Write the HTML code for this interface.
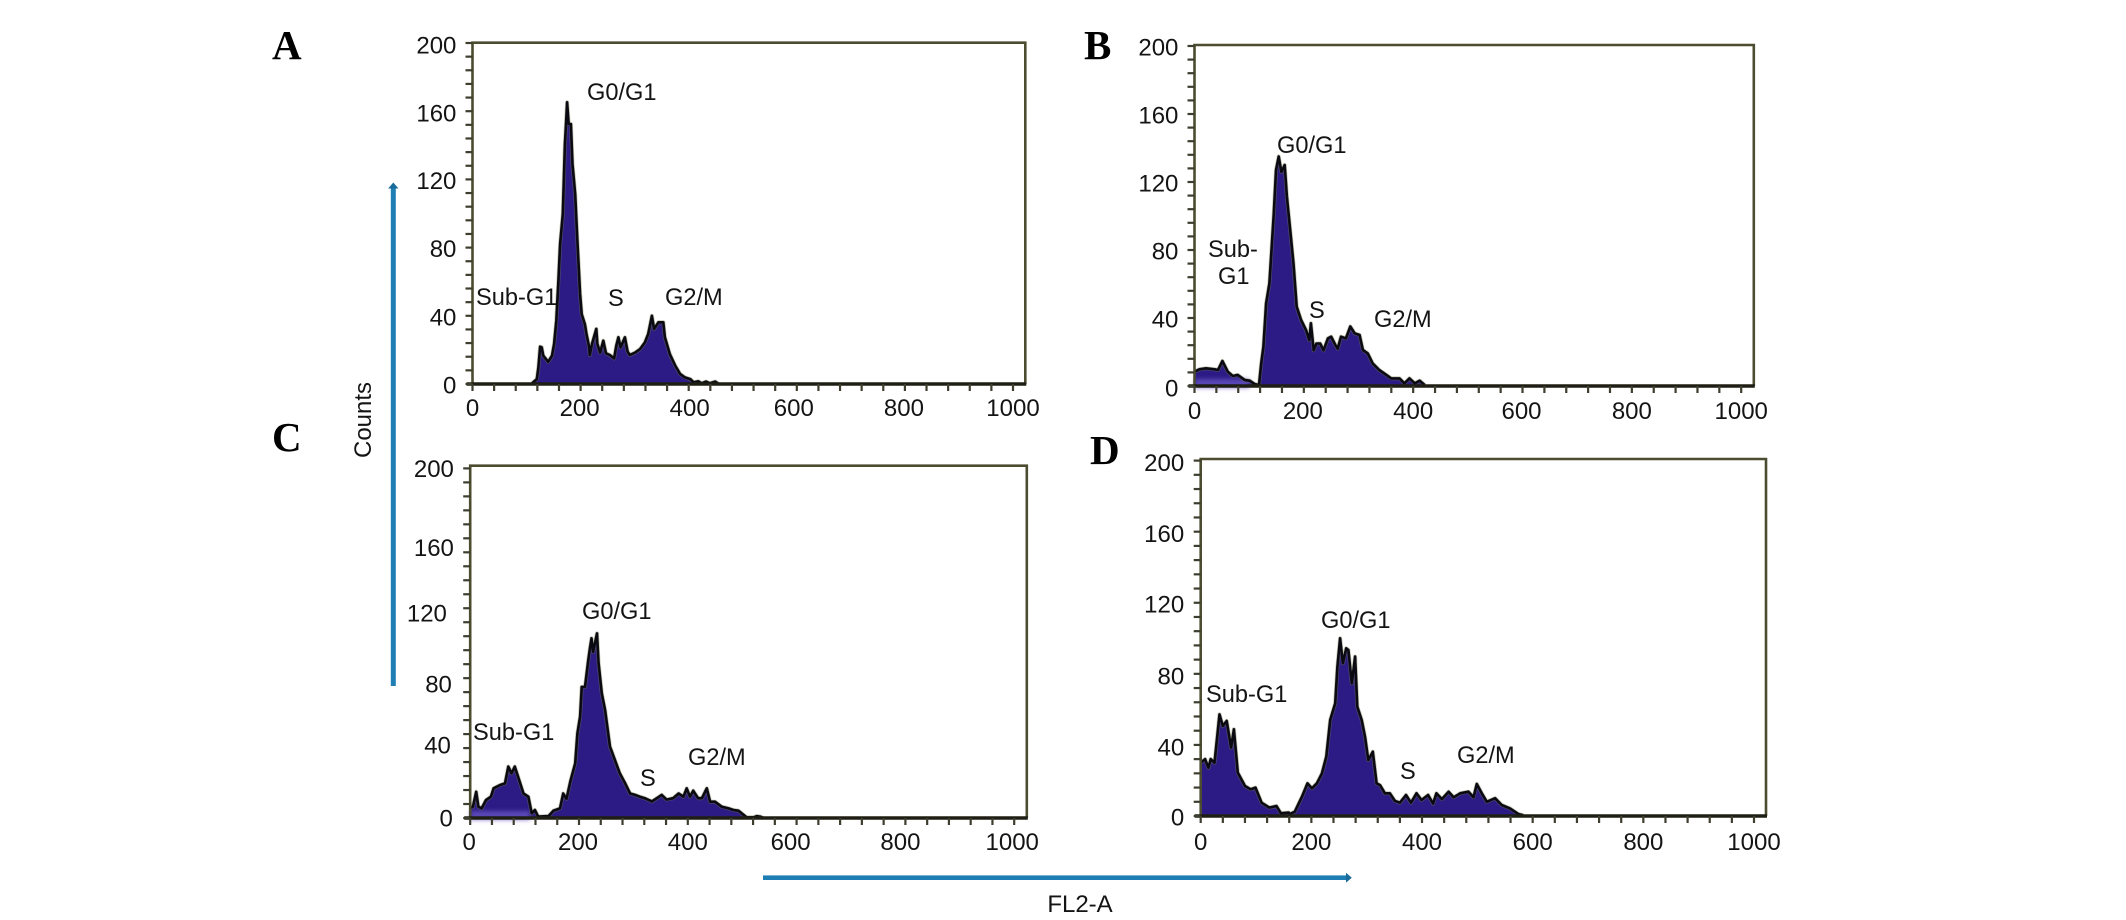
<!DOCTYPE html>
<html lang="en">
<head>
<meta charset="utf-8">
<title>Cell cycle flow cytometry histograms</title>
<style>
  html, body { margin: 0; padding: 0; background: #ffffff; }
  #figure { display: block; width: 2126px; height: 920px; background: #ffffff; }
  text { font-family: "Liberation Sans", sans-serif; fill: #141414; }
  .tick-label { font-size: 24px; }
  .phase-label { font-size: 23.6px; }
  .axis-title { font-size: 24px; }
  .panel-letter { font-family: "Liberation Serif", serif; font-weight: bold; font-size: 41px; fill: #000000; }
</style>
</head>
<body>
<svg id="figure" xmlns="http://www.w3.org/2000/svg" width="2126" height="920" viewBox="0 0 2126 920">
  <defs>
    <filter id="soft-glow" x="-20%" y="-100%" width="140%" height="300%"><feGaussianBlur stdDeviation="2"/></filter>
  </defs>
  <rect x="0" y="0" width="2126" height="920" fill="#ffffff"/>
  <g id="panels"></g>

  <text class="panel-letter" x="272" y="59">A</text>
  <text class="panel-letter" x="1084" y="59">B</text>
  <text class="panel-letter" x="272" y="451">C</text>
  <text class="panel-letter" x="1090" y="464">D</text>

  <text class="phase-label" x="587" y="100">G0/G1</text>
  <text class="phase-label" x="476" y="305">Sub-G1</text>
  <text class="phase-label" x="608" y="306">S</text>
  <text class="phase-label" x="665" y="305">G2/M</text>

  <text class="phase-label" x="1277" y="153">G0/G1</text>
  <text class="phase-label" x="1208" y="257">Sub-</text>
  <text class="phase-label" x="1218" y="284">G1</text>
  <text class="phase-label" x="1309" y="318">S</text>
  <text class="phase-label" x="1374" y="327">G2/M</text>

  <text class="phase-label" x="582" y="619">G0/G1</text>
  <text class="phase-label" x="473" y="740">Sub-G1</text>
  <text class="phase-label" x="640" y="786">S</text>
  <text class="phase-label" x="688" y="765">G2/M</text>

  <text class="phase-label" x="1321" y="628">G0/G1</text>
  <text class="phase-label" x="1206" y="702">Sub-G1</text>
  <text class="phase-label" x="1400" y="779">S</text>
  <text class="phase-label" x="1457" y="763">G2/M</text>

  <g>
    <rect x="390.8" y="186" width="5" height="500" fill="#1f7fb5"/>
    <polygon points="393.3,182.5 398.5,188.5 388.1,188.5" fill="#1a6a9a"/>
  </g>
  <g>
    <rect x="763" y="875.4" width="585" height="4.6" fill="#1f7fb5"/>
    <polygon points="1351.8,877.7 1346,872.8 1346,882.6" fill="#1a6a9a"/>
  </g>
  <text class="axis-title" transform="translate(371 420) rotate(-90)" text-anchor="middle">Counts</text>
  <text class="axis-title" x="1080" y="912" text-anchor="middle">FL2-A</text>
</svg>

<script>
const xTickLabels = [0, 200, 400, 600, 800, 1000];
const yTickLabels = [0, 40, 80, 120, 160, 200];
const xMinorStep = 40;
const yMinorStep = 8;

const panelAChannels = [110,119,122,125,128,131,140,147,151,155,159,162,167,171,173,175,178,182,185,190,194,199,202,208,211,216,217,221,229,231,236,242,247,254,262,266,270,274,282,287,291,301,310,319,325,332,336,344,353,356,365,375,384,393,403,409,418,424,432,439,449,455];
const panelACounts = [0.4,2.9,9.8,21.9,21.5,16.6,13,16.6,23.5,37.1,60.6,82.1,99.7,140.8,152.5,165.2,152.5,152.5,129,111.4,84,52.8,41,35,29.3,21.5,17,23.5,32.3,23.5,18.5,25.4,18,17,15,22.5,27.4,21.5,27.4,19,17,18.5,20.5,24.4,29.3,40,32.3,36.2,36.2,27.4,17.6,10.8,5.9,3.9,2.9,1,1.6,0.4,1.4,0.4,1.4,0.2];

const panelBChannels = [0,9,21,37,43,51,61,70,79,92,101,110,118,122,126,131,137,145,149,154,159,165,169,175,181,187,195,204,210,213,218,223,230,236,244,250,258,262,268,277,285,293,302,308,317,326,338,351,360,375,384,393,403,412,421];
const panelBCounts = [8.4,9.8,10.4,9.8,9.4,14.7,8.4,5.9,6.5,3.5,3.1,1.2,0.6,13.3,23,48.6,60.4,101.6,127,135,126,130,111.4,91.8,72,46.7,38.8,33,27,36.9,21,25,25,21,28,29,24,22,29,28,35,31,30,21.2,19.2,13.3,9.4,6.5,4.5,4.5,1.6,4.5,1.6,3.1,0.6];

const panelCChannels = [0,5,11,15,21,29,38,43,55,64,70,76,82,90,98,107,113,119,125,144,153,165,171,177,184,193,197,202,205,211,217,220,223,226,233,236,242,248,252,257,266,275,285,294,303,312,321,334,343,352,361,373,383,392,398,404,410,419,426,435,441,450,462,475,484,493,508,521,527,533,539];
const panelCCounts = [5.5,6.5,15,6.5,5.5,10.3,12.2,17,18.9,19.8,29.4,25.6,29.4,21.7,14,12.2,2.7,4.6,0.8,1.1,4.2,5.5,14,11,20.8,31.3,48.4,58,75,75,90,97,102.8,95,105.6,88.5,71.3,61.8,52.3,40.8,33.2,25.6,19.8,14,13.2,12.2,11.3,9.5,11.3,13.2,10.5,11.3,14,12.2,17,12.2,15.6,11.3,11.3,17,9.3,9.3,6.5,5.5,4.6,4.2,0.4,0.4,1.1,0.8,0];

const panelDChannels = [0,8,14,18,25,34,40,47,55,60,67,80,90,99,110,124,137,145,159,161,170,183,193,201,210,219,227,234,243,247,252,257,263,267,273,279,283,291,297,303,311,318,324,333,342,351,360,371,380,390,399,411,420,426,436,448,457,469,484,493,499,508,517,532,544,559,574,583];
const panelDCounts = [30,32,27.2,32,30,57.2,50.7,53.5,38.5,48.8,24.4,16.9,15,16,7.5,4.7,5.6,1.5,1.9,1.1,2.4,10.9,18.4,15.6,18.4,24,33.4,54,63.4,84,100,86,94.4,93.4,74.7,89.7,61.5,54,44.7,31.5,36.2,18.4,17.4,12.8,12.8,8.5,7.5,11.8,7.5,12.8,9,11.8,7,12.8,9.5,13.7,10.5,12.8,13.7,10.5,18,12.8,8,10,6.2,4.3,1.1,0.4];

const panelLayouts = [
  { id: 'a', channels: panelAChannels, counts: panelACounts, left: 472.5, right: 1025.3, top: 42.7, bottom: 384, xOrigin: 472.5, xPerUnit: 0.5405, yOrigin: 384, yPerUnit: 1.705, yLabelRight: 456.4, xLabelBaseline: 416, yLabelShiftX: [0,0,0,0,0,0], yLabelShiftY: [1,1,1,1,2,2], xLabelShiftX: [0,-1,1,-3,-1,0], glowEnd: 0 },
  { id: 'b', channels: panelBChannels, counts: panelBCounts, left: 1194.5, right: 1753.8, top: 45, bottom: 386, xOrigin: 1194.5, xPerUnit: 0.5467, yOrigin: 386, yPerUnit: 1.7, yLabelRight: 1178.4, xLabelBaseline: 419, yLabelShiftX: [0,0,0,0,0,0], yLabelShiftY: [2,1,1,1,1,1], xLabelShiftX: [0,-1,0,-1,0,0], glowEnd: 100 },
  { id: 'c', channels: panelCChannels, counts: panelCCounts, left: 470.2, right: 1026.8, top: 465.7, bottom: 818, xOrigin: 470.2, xPerUnit: 0.544, yOrigin: 818, yPerUnit: 1.748, yLabelRight: 453.9, xLabelBaseline: 850, yLabelShiftX: [-1,-3,-2,-7,0,0], yLabelShiftY: [0,-3,6,5,9,0], xLabelShiftX: [-1,-1,0,-6,-5,-2], glowEnd: 110 },
  { id: 'd', channels: panelDChannels, counts: panelDCounts, left: 1200.7, right: 1766, top: 459, bottom: 816, xOrigin: 1200.7, xPerUnit: 0.5533, yOrigin: 816, yPerUnit: 1.777, yLabelRight: 1184.2, xLabelBaseline: 850, yLabelShiftX: [0,0,0,0,0,0], yLabelShiftY: [1,2,2,1,2,2], xLabelShiftX: [0,0,0,0,0,0], glowEnd: 0 }
];

const SVG_NS = 'http://www.w3.org/2000/svg';
const panelsRoot = document.getElementById('panels');

function makeEl(tag, attrs, parent) {
  const el = document.createElementNS(SVG_NS, tag);
  Object.keys(attrs).forEach(function (k) { el.setAttribute(k, attrs[k]); });
  parent.appendChild(el);
  return el;
}

panelLayouts.forEach(function (p) {
  const xScale = function (v) { return p.xOrigin + v * p.xPerUnit; };
  const yScale = function (v) { return p.yOrigin - v * p.yPerUnit; };

  const group = makeEl('g', {}, panelsRoot);
  
  

  /* histogram */
  let outline = '';
  p.channels.forEach(function (c, i) {
    outline += (i === 0 ? 'M' : 'L') + xScale(c).toFixed(1) + ' ' + yScale(p.counts[i]).toFixed(1) + ' ';
  });
  const first = xScale(p.channels[0]).toFixed(1);
  const last = xScale(p.channels[p.channels.length - 1]).toFixed(1);
  const base = yScale(0).toFixed(1);

  const area = makeEl('path', { d: 'M' + first + ' ' + base + ' L' + outline.slice(1) + 'L' + last + ' ' + base + ' Z', fill: '#2c1a85', stroke: 'none' }, group);
  
  

  if (p.glowEnd > 0) {
    const glow = makeEl('rect', { x: xScale(0), y: yScale(0) - 7, width: xScale(p.glowEnd) - xScale(0), height: 9, fill: '#6a58c8', opacity: '0.75', filter: 'url(#soft-glow)' }, group);
    
    
  }

  const halo = makeEl('path', { d: outline, fill: 'none', stroke: '#7d7d55', 'stroke-width': '4', 'stroke-linejoin': 'round', opacity: '0.45' }, group);
  
  

  const line = makeEl('path', { d: outline, fill: 'none', stroke: '#0a0a12', 'stroke-width': '2.6', 'stroke-linejoin': 'round' }, group);
  
  

  /* frame */
  const frame = makeEl('path', { d: 'M' + p.left + ' ' + p.bottom + ' V' + p.top + ' H' + p.right + ' V' + p.bottom, fill: 'none', stroke: '#4c4c30', 'stroke-width': '2.6' }, group);
  
  

  const baseline = makeEl('line', { x1: p.left - 6, x2: p.right + 1, y1: p.bottom, y2: p.bottom, stroke: '#1e1e14', 'stroke-width': '3.4' }, group);
  
  

  /* ticks */
  for (let v = 0; v <= 1000; v += xMinorStep) {
    const tick = makeEl('line', { x1: xScale(v), x2: xScale(v), y1: p.bottom, y2: p.bottom + 7, stroke: '#3e3e2e', 'stroke-width': '2.2' }, group);
    
    
  }
  for (let v = 0; v <= 200; v += yMinorStep) {
    const tick = makeEl('line', { x1: p.left - 7, x2: p.left, y1: yScale(v), y2: yScale(v), stroke: '#3e3e2e', 'stroke-width': '2.2' }, group);
    
    
  }

  /* tick labels */
  xTickLabels.forEach(function (v, i) {
    const label = makeEl('text', { x: xScale(v) + p.xLabelShiftX[i], y: p.xLabelBaseline, 'text-anchor': 'middle', 'class': 'tick-label' }, group);
    label.textContent = String(v);
    
    
  });
  yTickLabels.forEach(function (v, i) {
    const label = makeEl('text', { x: p.yLabelRight + p.yLabelShiftX[i], y: yScale(v) + p.yLabelShiftY[i] + 8.5, 'text-anchor': 'end', 'class': 'tick-label' }, group);
    label.textContent = String(v);
    
    
  });
});
</script>
</body>
</html>
